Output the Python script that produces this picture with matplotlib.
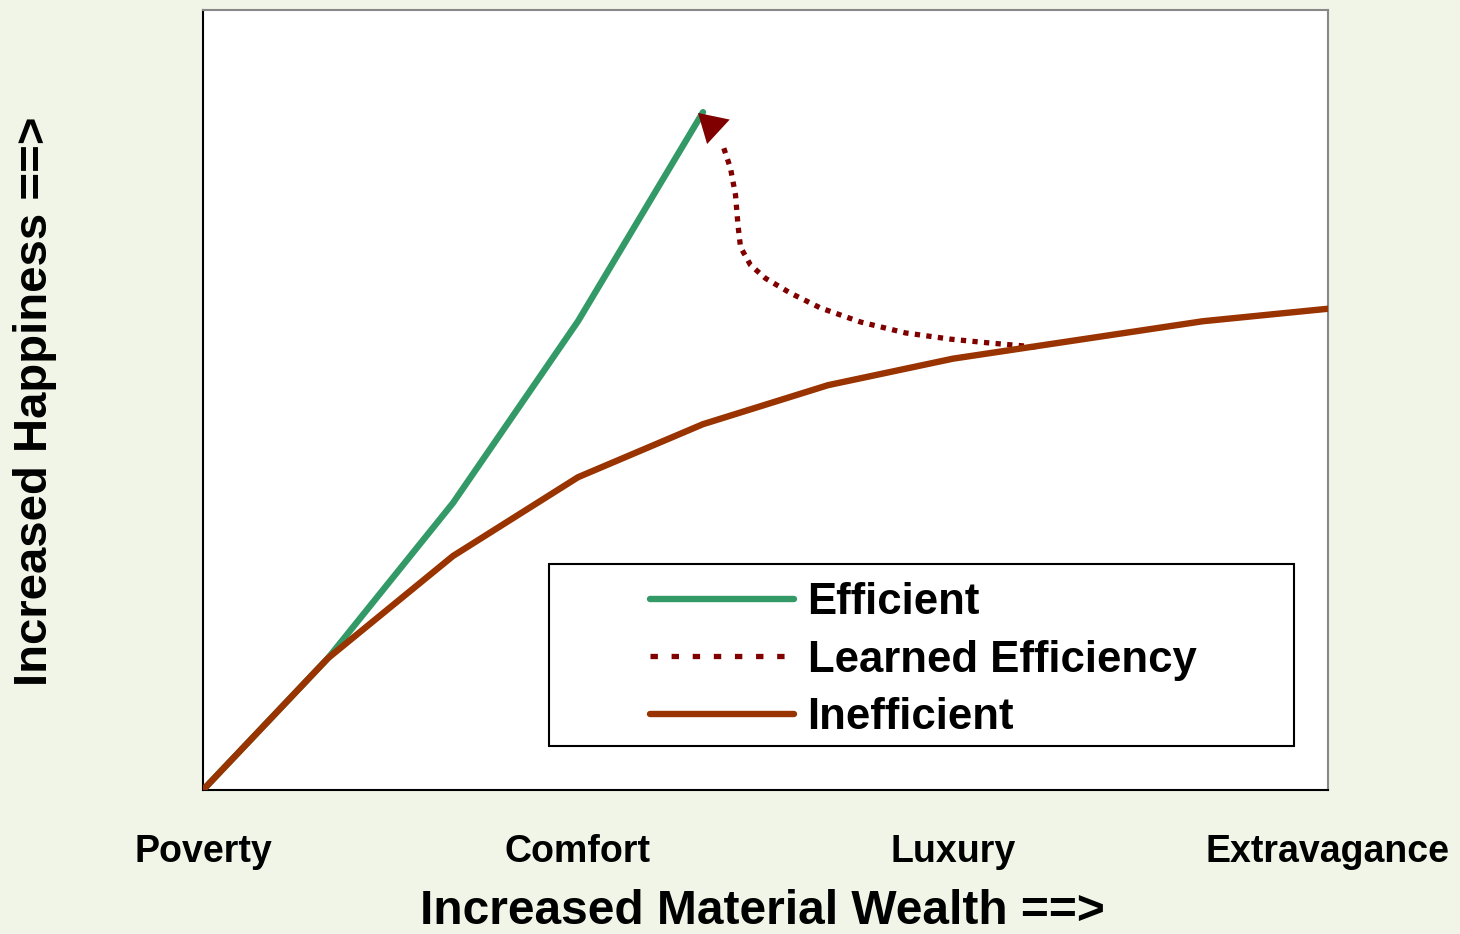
import matplotlib
matplotlib.use("Agg")
import matplotlib.pyplot as plt
from matplotlib.patches import Rectangle
from matplotlib.lines import Line2D

plt.rcParams['font.family'] = ['Liberation Sans', 'DejaVu Sans']
plt.rcParams['font.weight'] = 'bold'

# Wealth steps (0 = poverty ... 9 = extravagance)
wealth = [0, 1, 2, 3, 4, 5, 6, 7, 8, 9]
inefficient = [0, 16.9, 30.0, 40.1, 46.9, 51.9, 55.3, 57.7, 60.1, 61.7]
efficient_x = [0, 1, 2, 3, 4]
efficient = [0, 16.9, 36.8, 60.1, 86.9]

# Learned-efficiency path: from the inefficient curve back up to the efficient peak
learned_x = [6.66, 6.30, 5.98, 5.62, 5.26, 4.94, 4.70, 4.50, 4.38, 4.30, 4.28, 4.26, 4.22, 4.16]
learned_y = [56.8, 57.3, 57.8, 58.6, 60.0, 61.8, 63.7, 65.6, 67.3, 69.6, 72.4, 76.3, 79.7, 82.6]
arrow_tip = (3.96, 86.8)
arrow_tail = (4.46, 79.4)

tick_pos = [0, 3, 6, 9]
tick_labels = ['Poverty', 'Comfort', 'Luxury', 'Extravagance']

green = '#339966'
brown = '#993300'
maroon = '#800000'
bg = '#F0F5E8'

fig = plt.figure(figsize=(14.6, 9.34), dpi=100, facecolor=bg)
ax = fig.add_axes([203 / 1460, 1 - 790 / 934, 1125 / 1460, 780 / 934])
ax.set_facecolor('white')

ax.plot(efficient_x, efficient, color=green, lw=4.6, solid_capstyle='round',
        solid_joinstyle='round', zorder=3)
ax.plot(wealth, inefficient, color=brown, lw=4.6, solid_capstyle='round',
        solid_joinstyle='round', zorder=4)
ax.plot(learned_x, learned_y, color=maroon, lw=3.8, linestyle=(0, (1, 1.2)),
        dash_capstyle='butt', zorder=3)
# Arrow head only (the shaft is invisible); tail sets its direction
ax.annotate('', xy=arrow_tip, xytext=arrow_tail,
            arrowprops=dict(arrowstyle='-|>,head_length=0.5,head_width=0.3',
                            mutation_scale=40, color=maroon, lw=0,
                            shrinkA=0, shrinkB=0), zorder=5)

ax.set_xlim(0, 9)
ax.set_ylim(0, 100)
ax.set_xticks(tick_pos)
ax.set_xticklabels(tick_labels, fontsize=27, fontweight='bold')
ax.tick_params(axis='x', length=0, pad=32)
ax.set_yticks([])
for s in ['left', 'bottom']:
    ax.spines[s].set_color('black')
    ax.spines[s].set_linewidth(1.5)
for s in ['top', 'right']:
    ax.spines[s].set_color('#888888')
    ax.spines[s].set_linewidth(1.5)

ax.set_xlabel('Increased Material Wealth ==>', fontsize=34.5, fontweight='bold')
ax.xaxis.set_label_coords((762 - 203) / 1125, (790 - 912) / 780)
ax.xaxis.label.set_va('center')
ax.set_ylabel('Increased Happiness ==>', fontsize=34, fontweight='bold')
ax.yaxis.set_label_coords((35 - 203) / 1125, (790 - 401) / 780)
ax.yaxis.label.set_va('center')

# Legend frame and entries
ax.add_patch(Rectangle((0.3076, 0.0564), 0.6622, 0.2333, transform=ax.transAxes,
                       facecolor='white', edgecolor='black', lw=1.5, zorder=6))
handles = [
    Line2D([], [], color=green, lw=4.6, solid_capstyle='round'),
    Line2D([], [], color=maroon, lw=3.8, linestyle=(0, (1.4, 2.6))),
    Line2D([], [], color=brown, lw=4.6, solid_capstyle='round'),
]
leg = ax.legend(handles, ['Efficient', 'Learned Efficiency', 'Inefficient'],
                loc='upper left', bbox_to_anchor=((650 - 203) / 1125, (790 - 582) / 780),
                frameon=False, borderpad=0, borderaxespad=0, handlelength=3.3,
                handletextpad=0.3, labelspacing=0.38,
                prop={'size': 31.5, 'weight': 'bold'})
leg.set_zorder(7)

fig.savefig('out.png', dpi=100, facecolor=bg)
